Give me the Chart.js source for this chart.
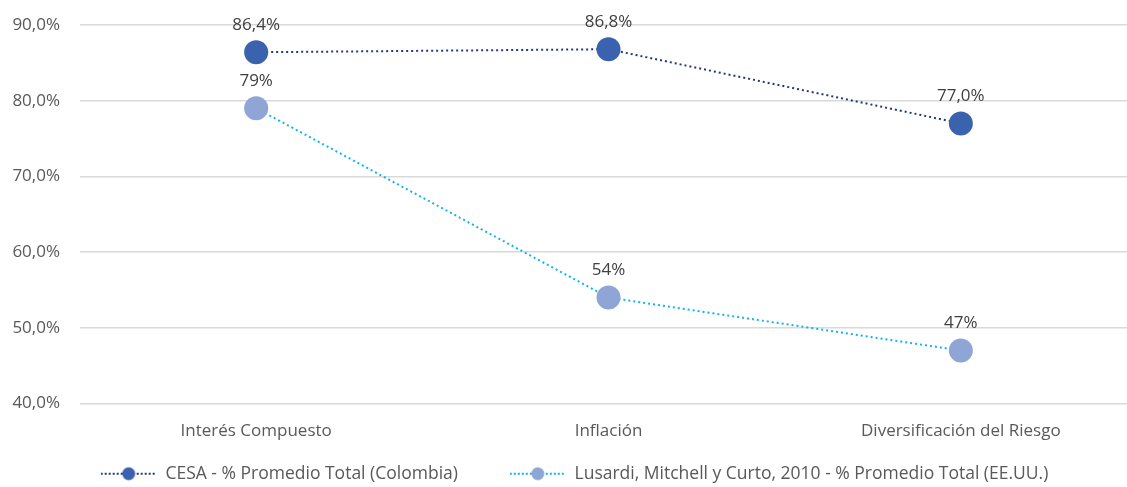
<!DOCTYPE html>
<html>
<head>
<meta charset="utf-8">
<script src="https://cdn.jsdelivr.net/npm/chart.js@4.4.1/dist/chart.umd.min.js"></script>
<style>
  html, body { margin: 0; padding: 0; background: #fff; overflow: hidden; }
  #wrap { width: 1149px; height: 487px; }
</style>
</head>
<body>
<div id="wrap"><canvas id="literacy-chart" width="1149" height="487"></canvas></div>
<script>
const categories = ['Interés Compuesto', 'Inflación', 'Diversificación del Riesgo'];
const cesaValues = [86.4, 86.8, 77.0];
const lusardiValues = [79, 54, 47];
const seriesNames = ['CESA - % Promedio Total (Colombia)', 'Lusardi, Mitchell y Curto, 2010 - % Promedio Total (EE.UU.)'];
const labelDecimals = [1, 0];

const FONT = '"Open Sans", Lato, sans-serif';
const TEXT = '#595959';

// legend symbol: dotted line with a dot in the middle
function legendSymbol(lineColor, dotColor) {
    let c = document.createElement('canvas');
    c.width = 56; c.height = 16;
    let g = c.getContext('2d');
    g.strokeStyle = lineColor;
    g.lineWidth = 2;
    g.setLineDash([2, 2]);
    g.beginPath();
    g.moveTo(0, 8); g.lineTo(56, 8);
    g.stroke();
    g.fillStyle = dotColor;
    g.beginPath();
    g.arc(28, 8, 6.5, 0, Math.PI * 2);
    g.fill();
    return c;
}

const pointLabels = {
    id: 'pointLabels',
    afterDatasetsDraw(chart) {
        let ctx = chart.ctx;
        ctx.save();
        ctx.font = '17px ' + FONT;
        ctx.fillStyle = '#404040';
        ctx.textAlign = 'center';
        ctx.textBaseline = 'middle';
        chart.data.datasets.forEach((ds, i) => {
            chart.getDatasetMeta(i).data.forEach((pt, j) => {
                let txt = ds.data[j].toFixed(labelDecimals[i]).replace('.', ',') + '%';
                ctx.fillText(txt, pt.x, pt.y - 27);
            });
        });
        ctx.restore();
    }
};

let ctx = document.getElementById('literacy-chart').getContext('2d');

new Chart(ctx, {
    type: 'line',
    data: {
        labels: categories,
        datasets: [{
            label: seriesNames[0],
            data: cesaValues,
            borderColor: '#1F3A78',
            borderWidth: 2,
            borderDash: [2, 3],
            pointRadius: 12,
            pointHoverRadius: 12,
            pointBackgroundColor: '#3A62AE',
            pointBorderWidth: 0,
            pointStyle: 'circle',
            fill: false
        }, {
            label: seriesNames[1],
            data: lusardiValues,
            borderColor: '#12B4EE',
            borderWidth: 2,
            borderDash: [2, 3],
            pointRadius: 12,
            pointHoverRadius: 12,
            pointBackgroundColor: '#8FA5D6',
            pointBorderWidth: 0,
            pointStyle: 'circle',
            fill: false
        }]
    },
    options: {
        responsive: false,
        animation: false,
        layout: { padding: { top: 25, right: 0, left: 0, bottom: 0 } },
        plugins: {
            tooltip: { enabled: false },
            legend: {
                position: 'bottom',
                maxHeight: 42,
                labels: {
                    usePointStyle: true,
                    pointStyleWidth: 56,
                    padding: 20,
                    color: TEXT,
                    font: { family: FONT, size: 17.5 },
                    generateLabels(chart) {
                        return chart.data.datasets.map((ds, i) => ({
                            // spaces after the first entry widen the gap between the two items
                            text: i === 0 ? ds.label + '       ' : ds.label,
                            datasetIndex: i,
                            fontColor: TEXT,
                            lineWidth: 0,
                            pointStyle: legendSymbol(ds.borderColor, ds.pointBackgroundColor)
                        }));
                    }
                }
            }
        },
        scales: {
            x: {
                offset: true,
                afterFit(scale) { scale.height = 41.5; },
                grid: { display: false, drawTicks: false },
                border: { display: false },
                ticks: { color: TEXT, font: { family: FONT, size: 17 }, padding: 17 }
            },
            y: {
                min: 40,
                max: 90,
                afterFit(scale) { scale.width = 80; },
                grid: { color: '#D9D9D9', lineWidth: 1.5, tickLength: 10, tickColor: 'rgba(0,0,0,0)' },
                border: { display: false },
                ticks: {
                    stepSize: 10,
                    padding: 10,
                    color: TEXT,
                    font: { family: FONT, size: 17 },
                    callback: v => v.toFixed(1).replace('.', ',') + '%'
                }
            }
        }
    },
    plugins: [pointLabels]
});
</script>
</body>
</html>
